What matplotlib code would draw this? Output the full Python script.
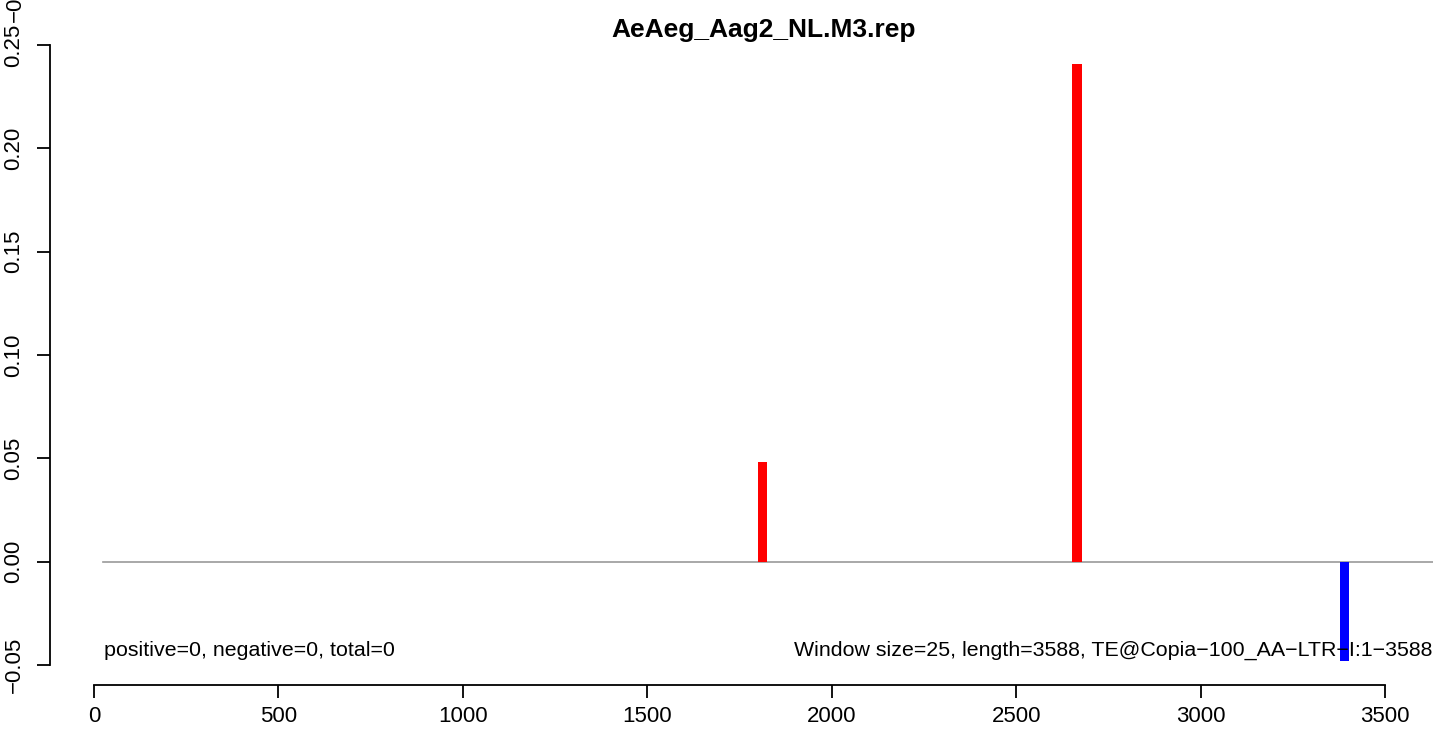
import numpy as np
import matplotlib
matplotlib.use('Agg')
from matplotlib import pyplot as plt

plt.rcParams['font.family'] = ['Liberation Sans', 'DejaVu Sans']

# window positions and scores
POS_X = [1813, 2665]
POS_Y = [0.048, 0.241]
NEG_X = [3391]
NEG_Y = [-0.048]
BAR_W = 25
X_TICKS = [0, 500, 1000, 1500, 2000, 2500, 3000, 3500]
Y_TICKS = [-0.05, 0.00, 0.05, 0.10, 0.15, 0.20, 0.25]
TITLE = 'AeAeg_Aag2_NL.M3.rep'
LEFT_NOTE = 'positive=0, negative=0, total=0'
RIGHT_NOTE = 'Window size=25, length=3588, TE@Copia\u2212100_AA\u2212LTR\u2212I:1\u22123588'

W, H = 1433, 733
fig = plt.figure(figsize=(W / 100, H / 100), dpi=100)

# pixel mapping
px_per_x = (1385 - 94) / 3500
px_per_y = 103.3 / 0.05
ax_l, ax_r, ax_t, ax_b = 50, 1433, 30, 685
ax = fig.add_axes([ax_l / W, 1 - ax_b / H, (ax_r - ax_l) / W, (ax_b - ax_t) / H])
ax.set_xlim((ax_l - 94) / px_per_x, (ax_r - 94) / px_per_x)
ax.set_ylim(-0.05 - (ax_b - 665) / px_per_y, 0.25 + (45 - ax_t) / px_per_y)

ax.plot([25, 3640], [0, 0], color='#999999', lw=1.2, zorder=1)
ax.bar(POS_X, POS_Y, width=BAR_W, color='red', zorder=2)
ax.bar(NEG_X, NEG_Y, width=BAR_W, color='blue', zorder=2)

for s in ['top', 'right']:
    ax.spines[s].set_visible(False)
ax.spines['bottom'].set_bounds(0, 3500)
ax.spines['left'].set_bounds(-0.05, 0.25)
ax.spines['bottom'].set_linewidth(1.3)
ax.spines['left'].set_linewidth(1.3)
ax.set_xticks(X_TICKS)
ax.set_xticklabels([str(t) for t in X_TICKS])
ax.set_yticks(Y_TICKS)
ax.set_yticklabels(['{:.2f}'.format(t).replace('-', '\u2212') for t in Y_TICKS],
                   rotation=90, va='center')
ax.tick_params(axis='both', length=9.4, width=1.3, labelsize=16)
ax.tick_params(axis='x', pad=5.5)
ax.tick_params(axis='y', pad=9)

ax.text(28, -0.0455, LEFT_NOTE, fontsize=15.4, ha='left', va='baseline')
ax.text(3628, -0.0455, RIGHT_NOTE, fontsize=15.4, ha='right', va='baseline')

fig.text(764 / W, 1 - 30 / H, TITLE, fontsize=19, fontweight='bold', ha='center', va='center')
fig.text(15 / W, 1 - 22 / H, '\u22120.05', fontsize=16, rotation=90, ha='center', va='bottom')

fig.savefig('out.png', dpi=100)
